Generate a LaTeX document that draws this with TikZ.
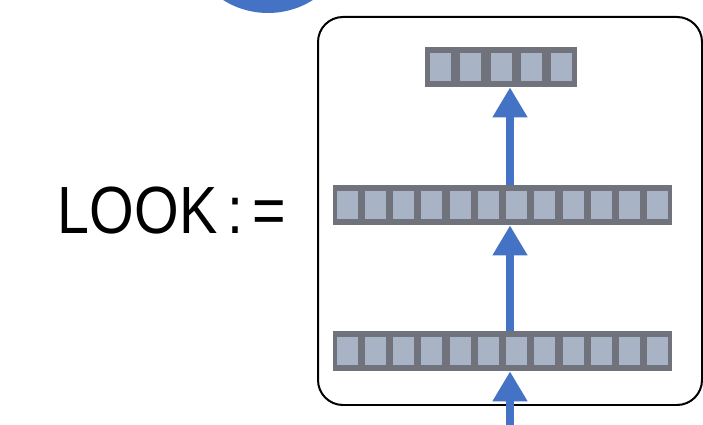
\documentclass[tikz,border=0pt]{standalone}
\usepackage{fontspec}
\setmainfont{Liberation Sans}
\usetikzlibrary{arrows.meta}
\definecolor{cellfill}{HTML}{A9B3C6}
\definecolor{barfill}{HTML}{70737C}
\definecolor{flowblue}{HTML}{4472C4}

\begin{document}
\begin{tikzpicture}[x=0.02cm,y=-0.02cm,
                    bar/.style={fill=barfill,inner sep=0pt,minimum height=0.8cm},
                    cell/.style={fill=cellfill,inner sep=0pt,minimum width=0.42cm,minimum height=0.56cm},
                    flow/.style={draw=flowblue,line width=0.16cm,-{Triangle[width=0.66cm,length=0.6cm]}}]
      \useasboundingbox (0,0) rectangle (703,425);

      % blue disc cut by the top edge
      \begin{scope}
        \clip (0,0) rectangle (703,425);
        \fill[flowblue] (268,-71) circle[radius=84];
      \end{scope}

      \node[font=\fontsize{38}{38}\selectfont,anchor=center] (look) at (172,211) {\scalebox{0.86}[1]{LOOK\,:\,=}};

      \draw[line width=0.04cm,rounded corners=0.5cm] (318,17) rectangle (702,405);

      % the three vectors
      \node[bar,minimum width=3.04cm] (top) at (501,67) {};
      \node[bar,minimum width=6.78cm] (mid) at (502.5,205) {};
      \node[bar,minimum width=6.78cm] (bot) at (502.5,351) {};
      \foreach[count=\i,evaluate={425+(\i-0.5)*30.4} as \x] \d in {1,...,5} {
        \node[cell] (t\i) at (\x,67) {};
      }
      \foreach[count=\i,evaluate={333+(\i-0.5)*28.25} as \x] \d in {1,...,12} {
        \node[cell] (m\i) at (\x,205) {};
        \node[cell] (b\i) at (\x,351) {};
      }

      \coordinate (feed) at (510,425);
      \draw[flow] (feed) -- (feed |- bot.south);
      \draw[flow] (feed |- bot.north) -- (feed |- mid.south);
      \draw[flow] (feed |- mid.north) -- (feed |- top.south);
    \end{tikzpicture}
\end{document}
